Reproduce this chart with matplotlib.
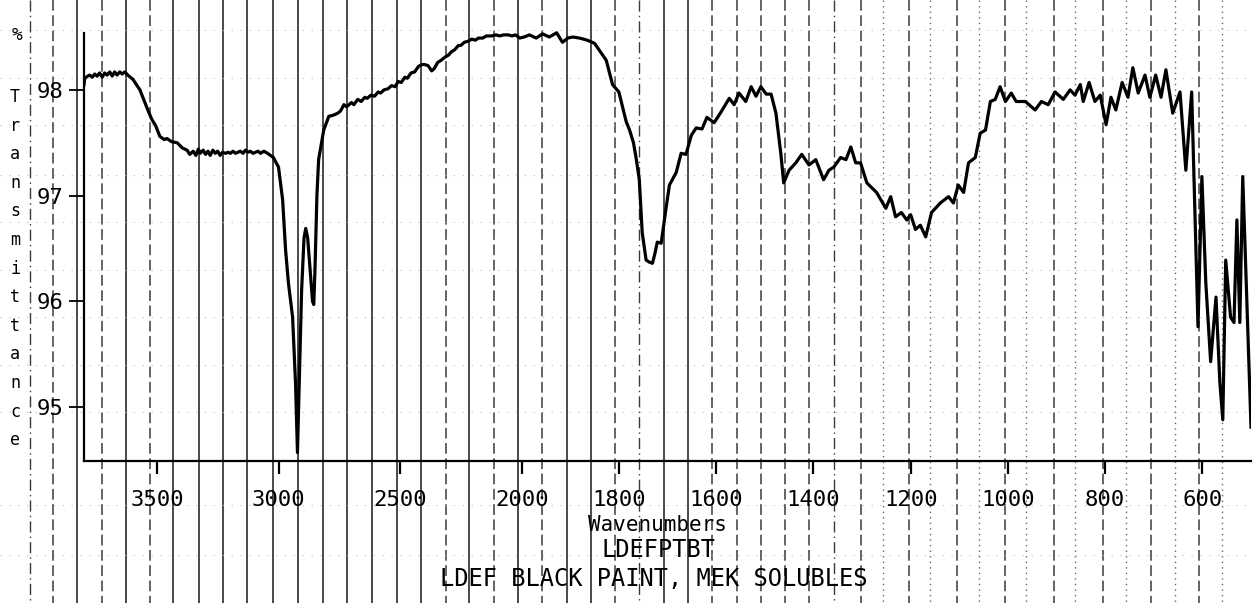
"""LDEF black paint IR spectrum — scanned-plotter look."""
import matplotlib; matplotlib.use('Agg')
import matplotlib.pyplot as plt
import numpy as np

plt.rcParams.update({
    'font.family': 'DejaVu Sans Mono',
    'font.size': 15,
})

# spectrum: wavenumber (cm-1) vs %T
wavenumber = [
    3800, 3797, 3785, 3777, 3766, 3756, 3746, 3736, 3725, 3715, 3705, 3694, 3684, 3674,
    3664, 3653, 3643, 3632, 3620, 3599, 3570, 3541, 3521, 3505, 3488, 3470, 3459, 3440,
    3417, 3395, 3376, 3365, 3351, 3340, 3330, 3322, 3310, 3300, 3290, 3281, 3270, 3260,
    3250, 3240, 3230, 3218, 3207, 3198, 3187, 3177, 3167, 3157, 3146, 3136, 3126, 3116,
    3105, 3095, 3084, 3074, 3060, 3045, 3021, 3000, 2983, 2971, 2959, 2942, 2930, 2922,
    2915, 2905, 2895, 2888, 2880, 2870, 2860, 2855, 2850, 2842, 2835, 2814, 2793, 2775,
    2756, 2745, 2731, 2720, 2700, 2690, 2674, 2660, 2645, 2635, 2620, 2605, 2590, 2580,
    2566, 2550, 2535, 2520, 2508, 2495, 2480, 2470, 2455, 2440, 2425, 2410, 2401, 2385,
    2370, 2360, 2345, 2331, 2315, 2300, 2289, 2275, 2260, 2250, 2236, 2220, 2205, 2190,
    2178, 2160, 2145, 2124, 2105, 2090, 2075, 2054, 2040, 2025, 2008, 1995, 1984, 1970,
    1957, 1943, 1928, 1916, 1905, 1895, 1881, 1865, 1850, 1838, 1826, 1813, 1800, 1793,
    1785, 1778, 1770, 1764, 1758, 1752, 1744, 1737, 1731, 1726, 1721, 1713, 1703, 1696,
    1682, 1672, 1662, 1651, 1641, 1629, 1619, 1604, 1590, 1573, 1563, 1553, 1539, 1528,
    1518, 1508, 1497, 1487, 1477, 1467, 1461, 1450, 1436, 1424, 1409, 1395, 1379, 1368,
    1358, 1344, 1333, 1323, 1313, 1303, 1290, 1270, 1251, 1241, 1231, 1219, 1208, 1200,
    1190, 1180, 1169, 1157, 1139, 1122, 1112, 1102, 1091, 1081, 1067, 1057, 1046, 1036,
    1026, 1016, 1005, 993, 983, 964, 944, 931, 917, 903, 886, 872, 862, 851,
    845, 833, 821, 810, 798, 788, 778, 765, 753, 743, 732, 718, 708, 696,
    685, 675, 661, 646, 634, 622, 609, 601, 593, 583, 572, 564, 558, 552,
    542, 535, 529, 523, 517, 500,
]
transmittance = [
    98.05, 98.11, 98.13, 98.14, 98.12, 98.15, 98.13, 98.16, 98.12, 98.16, 98.14, 98.17, 98.13, 98.17,
    98.14, 98.17, 98.15, 98.17, 98.14, 98.10, 98.00, 97.83, 97.72, 97.66, 97.56, 97.53, 97.54, 97.51,
    97.50, 97.45, 97.43, 97.39, 97.42, 97.38, 97.44, 97.40, 97.43, 97.39, 97.42, 97.38, 97.43, 97.40,
    97.42, 97.38, 97.41, 97.40, 97.41, 97.40, 97.42, 97.40, 97.41, 97.42, 97.40, 97.43, 97.41, 97.42,
    97.40, 97.41, 97.42, 97.40, 97.42, 97.40, 97.36, 97.27, 96.96, 96.49, 96.17, 95.85, 95.23, 94.57,
    95.20, 96.10, 96.60, 96.69, 96.60, 96.30, 96.00, 95.97, 96.30, 97.00, 97.34, 97.62, 97.75, 97.76,
    97.78, 97.80, 97.86, 97.84, 97.88, 97.86, 97.91, 97.89, 97.93, 97.92, 97.95, 97.94, 97.98, 97.97,
    98.00, 98.01, 98.04, 98.03, 98.08, 98.07, 98.12, 98.11, 98.16, 98.17, 98.22, 98.24, 98.24, 98.23,
    98.18, 98.20, 98.26, 98.28, 98.31, 98.33, 98.36, 98.38, 98.42, 98.42, 98.45, 98.46, 98.48, 98.47,
    98.49, 98.49, 98.51, 98.51, 98.52, 98.51, 98.52, 98.52, 98.51, 98.52, 98.49, 98.50, 98.52, 98.49,
    98.53, 98.50, 98.54, 98.45, 98.49, 98.50, 98.49, 98.47, 98.44, 98.36, 98.28, 98.05, 97.98, 97.85,
    97.70, 97.62, 97.50, 97.34, 97.15, 96.65, 96.39, 96.37, 96.36, 96.45, 96.56, 96.55, 96.88, 97.10,
    97.22, 97.40, 97.39, 97.57, 97.64, 97.63, 97.74, 97.69, 97.79, 97.92, 97.86, 97.97, 97.89, 98.03,
    97.94, 98.03, 97.96, 97.96, 97.78, 97.40, 97.12, 97.24, 97.31, 97.39, 97.29, 97.34, 97.15, 97.24,
    97.27, 97.36, 97.34, 97.46, 97.31, 97.31, 97.12, 97.03, 96.88, 96.99, 96.80, 96.84, 96.77, 96.82,
    96.68, 96.72, 96.61, 96.84, 96.93, 96.99, 96.93, 97.10, 97.03, 97.31, 97.36, 97.59, 97.62, 97.89,
    97.91, 98.03, 97.89, 97.97, 97.89, 97.89, 97.81, 97.89, 97.86, 97.98, 97.91, 98.00, 97.95, 98.05,
    97.89, 98.07, 97.89, 97.95, 97.67, 97.93, 97.81, 98.07, 97.93, 98.21, 97.97, 98.14, 97.93, 98.14,
    97.93, 98.19, 97.78, 97.98, 97.24, 97.98, 95.76, 97.18, 96.18, 95.43, 96.04, 95.23, 94.88, 96.39,
    95.85, 95.80, 96.77, 95.80, 97.18, 94.81,
]

x_ticks = [3500, 3000, 2500, 2000, 1800, 1600, 1400, 1200, 1000, 800, 600]
y_ticks = [95, 96, 97, 98]

# chart paper lines bleeding through the scan (pixel x, style)
paper_x = [30, 53, 77, 102, 126, 150, 173, 199, 223, 247, 273, 298, 323, 347, 372, 397,
           421, 446, 469, 494, 518, 542, 567, 591, 615, 639, 664, 688, 712, 737, 761, 785,
           809, 834, 861, 883, 909, 930, 957, 979, 1005, 1026, 1054, 1075, 1103, 1126,
           1151, 1175, 1199, 1222]
paper_style = ['dd', 'd', 's', 'd', 's', 'd', 's', 's', 's', 's', 's', 's', 's', 's', 's', 's',
               's', 'd', 's', 'd', 's', 'd', 's', 's', 'd', 'dd', 's', 's', 'd', 'd', 'd', 'd',
               'd', 'dd', 'd', 'o', 'd', 'o', 'd', 'o', 'd', 'o', 'd', 'o', 'd', 'o',
               'd', 'o', 'd', 'o']
paper_y = [30, 78, 125, 175, 222, 270, 317, 365, 412, 505, 555]

W, H = 1253, 603
fig = plt.figure(figsize=(W / 100, H / 100), dpi=100)
fig.patch.set_facecolor('white')

# background layer in pixel coords for the scan artefacts
bg = fig.add_axes([0, 0, 1, 1], zorder=0)
bg.set_xlim(0, W)
bg.set_ylim(H, 0)
bg.axis('off')
styles = {'s': dict(ls='-', lw=1.2, color='#2a2a2a'),
          'd': dict(ls=(0, (7, 3)), lw=1.1, color='#3a3a3a'),
          'dd': dict(ls=(0, (8, 3, 1, 3)), lw=1.0, color='#3a3a3a'),
          'o': dict(ls=(0, (1, 3)), lw=1.0, color='#666')}
for px, st in zip(paper_x, paper_style):
    bg.plot([px, px], [0, H], **styles[st])
for py in paper_y:
    bg.plot([0, W], [py, py], ls=(0, (1, 7)), lw=0.8, color='#bbb')


def fwd(w):
    w = np.asarray(w, dtype=float)
    return np.where(w > 2000, 2000 + (w - 2000) / 2, w)


def inv(u):
    u = np.asarray(u, dtype=float)
    return np.where(u > 2000, 2000 + (u - 2000) * 2, u)


ax = fig.add_axes([84 / W, (H - 461) / H, (1251 - 84) / W, 461 / H], zorder=2)
ax.patch.set_alpha(0)
ax.set_xscale('function', functions=(fwd, inv))
ax.plot(wavenumber, transmittance, color='black', lw=2.3, solid_joinstyle='round')
ax.set_xlim(3800, 500)
ax.set_ylim(94.49, 98.85)

for s in ('top', 'right'):
    ax.spines[s].set_visible(False)
ax.spines['left'].set_bounds(94.49, 98.54)
ax.spines['left'].set_linewidth(1.6)
ax.spines['bottom'].set_linewidth(1.6)

ax.set_xticks(x_ticks)
ax.set_xticklabels([str(t) for t in x_ticks])
ax.set_xticks([], minor=True)
ax.set_yticks(y_ticks)
ax.set_yticklabels([str(t) for t in y_ticks])
ax.tick_params(axis='x', direction='out', length=9, width=1.6, pad=12, labelsize=16)
ax.tick_params(axis='y', direction='out', length=11, width=1.3, pad=4, labelsize=16)

# stacked y label
fig.text(17 / W, 1 - 35 / H, '%', fontsize=13, ha='center', va='center')
for i, ch in enumerate('Transmittance'):
    fig.text(15 / W, 1 - (97 + i * 28.6) / H, ch, fontsize=12, ha='center', va='center')

fig.text(657 / W, 1 - 525 / H, 'Wavenumbers', fontsize=15, ha='center', va='center')
fig.text(658 / W, 1 - 550 / H, 'LDEFPTBT', fontsize=17, ha='center', va='center')
fig.text(654 / W, 1 - 579 / H, 'LDEF BLACK PAINT, MEK SOLUBLES', fontsize=17,
         ha='center', va='center')

fig.savefig('out.png', dpi=100)
plt.close()
print("out.png OK")
